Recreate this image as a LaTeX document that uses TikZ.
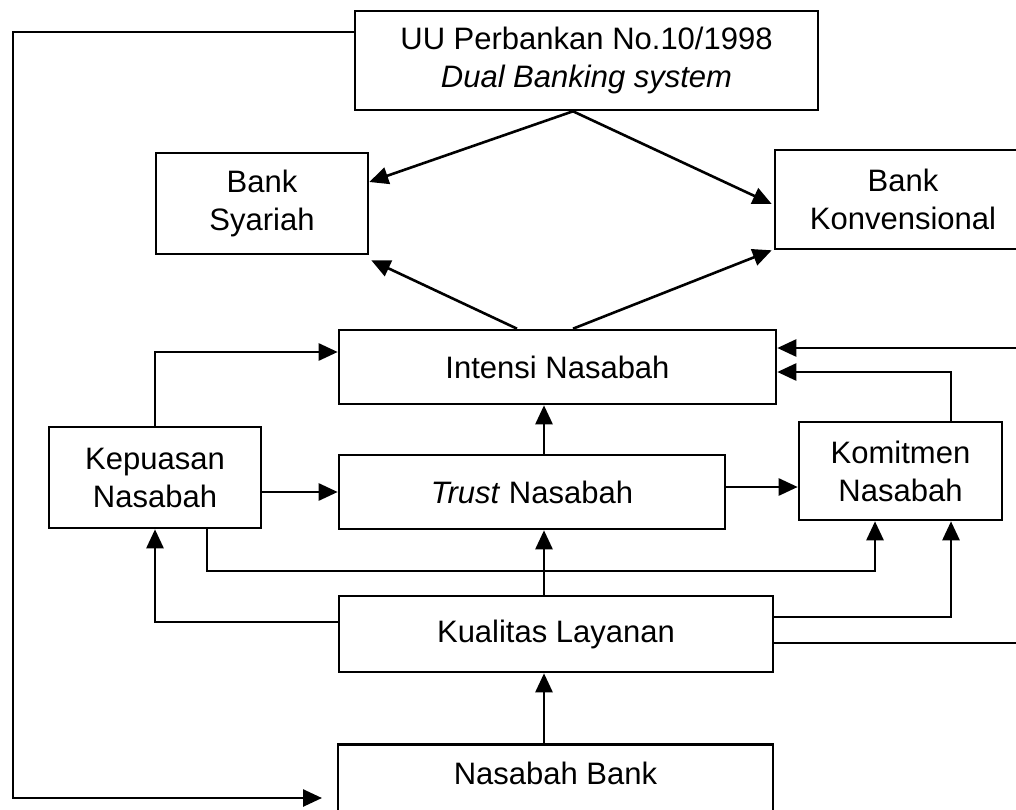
\documentclass[tikz,border=0pt]{standalone}
\usepackage{fontspec}
\setmainfont{Liberation Sans}
\usetikzlibrary{arrows.meta}
\begin{document}
\begin{tikzpicture}[x=1pt,y=-1pt,
  box/.style={draw, line width=2.6pt, rectangle, inner sep=0pt, align=center,
    font=\fontsize{31}{38}\selectfont, text=black},
  link/.style={line width=2.6pt},
  arr/.style={link, -{Triangle[length=19pt,width=17pt]}}]
\useasboundingbox (0,0) rectangle (1016,810);
\fill[white] (0,0) rectangle (1016,810);
\clip (0,0) rectangle (1016,810);

% boxes
\node[box, minimum width=463pt, minimum height=99pt] (uu) at (586.5,60.5)
  {UU Perbankan No.10/1998\\\textit{Dual Banking system}};
\node[box, minimum width=212pt, minimum height=101pt] (sya) at (262,203.5) {Bank\\Syariah};
\node[box, minimum width=256pt, minimum height=99pt] (kon) at (903,199.5) {Bank\\Konvensional};
\node[box, minimum width=437pt, minimum height=74pt] (int) at (557.5,367) {Intensi Nasabah};
\node[box, minimum width=212pt, minimum height=101pt] (kep) at (155,477.5) {Kepuasan\\Nasabah};
\node[box, minimum width=386pt, minimum height=74pt] (tru) at (532,492) {\textit{Trust} Nasabah};
\node[box, minimum width=203pt, minimum height=98pt] (kom) at (900.5,471) {Komitmen\\Nasabah};
\node[box, minimum width=434pt, minimum height=76pt] (kua) at (556,634) {Kualitas Layanan};
\node[box, minimum width=435pt, anchor=north, inner ysep=18pt, text depth=40pt] (nas) at (555.5,743) {Nasabah Bank};

% routing levels and columns
\coordinate (yTop) at (0,32);
\coordinate (xL) at (13,0);
\coordinate (nasin) at (322,798);
\coordinate (x573) at (573,0);
\coordinate (sp) at (544,0);
\coordinate (y352) at (0,352);
\coordinate (y487) at (0,487);
\coordinate (y372) at (0,372);
\coordinate (y348) at (0,348);
\coordinate (y643) at (0,643);
\coordinate (y617) at (0,617);
\coordinate (y622) at (0,622);
\coordinate (y571) at (0,571);
\coordinate (x951) at (951,0);
\coordinate (x875) at (875,0);
\coordinate (x207) at (207,0);
\coordinate (xR) at (1040,0);

% law to customers
\draw[arr] (uu.west |- yTop) -- (xL |- yTop) -- (xL |- nasin) -- (nasin);

% law to both bank types
\draw[arr] (x573 |- uu.south) -- ([yshift=21.5pt]sya.east);
\draw[arr] (x573 |- uu.south) -- ([shift={(-2pt,-4.5pt)}]kon.west);

% intention to both bank types
\draw[arr] ([xshift=-40.5pt]int.north) -- ([shift={(2pt,-5pt)}]sya.south east);
\draw[arr] ([xshift=15.5pt]int.north) -- ([xshift=-2pt]kon.south west);

% satisfaction
\draw[arr] (kep.north) |- (int.west |- y352);
\draw[arr] (kep.east |- tru.west) -- (tru.west);
\draw[arr] (x207 |- kep.south) |- (x875 |- y571) -- (x875 |- kom.south);

% trust
\draw[arr] (sp |- tru.north) -- (sp |- int.south);
\draw[arr] (tru.east |- y487) -- (kom.west |- y487);

% commitment
\draw[arr] (x951 |- kom.north) |- (int.east |- y372);

% service quality
\draw[arr] (kua.east |- y643) -| (xR |- y348) -- (int.east |- y348);
\draw[arr] (kua.west |- y622) -| (kep.south);
\draw[arr] (sp |- kua.north) -- (sp |- tru.south);
\draw[arr] (kua.east |- y617) -| (x951 |- kom.south);

% customers
\draw[arr] (sp |- nas.north) -- (sp |- kua.south);
\end{tikzpicture}
\end{document}
